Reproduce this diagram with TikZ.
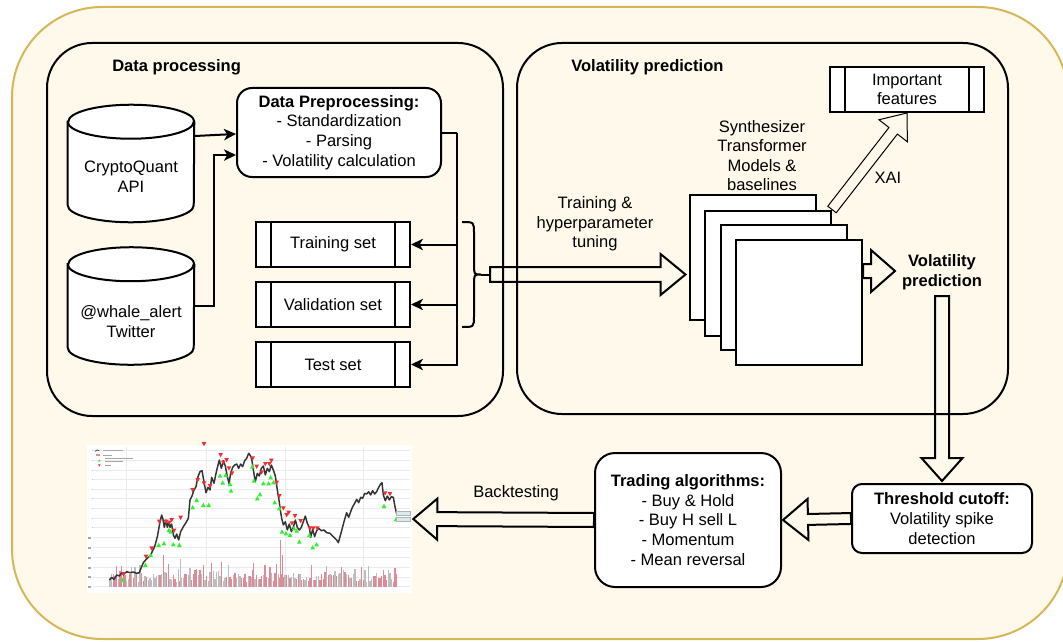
\documentclass[tikz,border=0pt]{standalone}
\usepackage{fontspec}
\setmainfont{Liberation Sans}
\usetikzlibrary{calc,arrows.meta}
\definecolor{bgfill}{HTML}{FEF9EB}
\definecolor{bgdraw}{HTML}{D6B656}
\definecolor{volred}{HTML}{E08A98}
\definecolor{volgray}{HTML}{BDBDBD}
\definecolor{mkgreen}{HTML}{33EE33}
\definecolor{mkred}{HTML}{F03030}
\definecolor{pricelbl}{HTML}{D8ECEC}

% hollow (flex) arrow: style, from, to, shaft half width, head half width, head length
\newcommand\flexarr[6]{%
  \coordinate (fxH) at ($(#3)!#6!(#2)$);
  \draw[#1] ($(#2)!#4!90:(#3)$) -- ($(fxH)!#4!90:(#3)$) -- ($(fxH)!#5!90:(#3)$) -- (#3)
     -- ($(fxH)!#5!-90:(#3)$) -- ($(fxH)!#4!-90:(#3)$) -- ($(#2)!#4!-90:(#3)$) -- cycle;}
\newcommand\cylshape[1]{%
  \draw[line width=1.5pt, fill=white] ([yshift=-12.75pt]#1.north west) -- ([yshift=12.75pt]#1.south west)
    arc[start angle=180,end angle=360,x radius=47.25pt,y radius=12.75pt]
    -- ([yshift=-12.75pt]#1.north east)
    arc[start angle=0,end angle=180,x radius=47.25pt,y radius=12.75pt] -- cycle;
  \draw[line width=1.5pt] ([yshift=-12.75pt]#1.north west)
    arc[start angle=180,end angle=360,x radius=47.25pt,y radius=12.75pt];}
\newcommand\procbars[1]{%
  \draw[line width=1.5pt] ([xshift=12pt]#1.north west) -- ([xshift=12pt]#1.south west)
    ([xshift=-12pt]#1.north east) -- ([xshift=-12pt]#1.south east);}

\begin{document}
\begin{tikzpicture}[x=0.75pt,y=-0.75pt,
  every node/.style={font=\fontsize{12.4}{14.7}\selectfont, inner sep=0pt, align=center},
  container/.style={draw, line width=1.5pt, rounded corners=33.75pt},
  cylnode/.style={minimum width=94.5pt, minimum height=87.75pt},
  proc/.style={draw, line width=1.5pt, fill=white, minimum width=115.5pt, minimum height=33.75pt},
  rbox/.style={draw, line width=1.5pt, fill=white},
  model/.style={draw, line width=1.5pt, fill=white, minimum width=94.5pt, minimum height=93.75pt},
  conn/.style={line width=1.5pt, -{Stealth[length=9pt,width=8.5pt,inset=2.5pt]}},
  plain/.style={line width=1.5pt},
  flexst/.style={line width=1.5pt, line join=miter},
  flexthin/.style={line width=0.75pt, line join=miter},
  title/.style={anchor=base west, font=\fontsize{12.4}{14.7}\selectfont\bfseries},
  bold/.style={font=\fontsize{12.4}{14.7}\selectfont\bfseries}
]
\useasboundingbox (0,0) rectangle (1063,642);
% background
\draw[bgdraw, fill=bgfill, line width=1.5pt, rounded corners=67.5pt] (12,7) rectangle (1068,639);

% containers
\node[container, minimum width=342pt, minimum height=279.75pt] (dpbox) at (275,229.5) {};
\node[container, minimum width=368.25pt, minimum height=278.25pt] (vpbox) at (762.5,228.5) {};
\node[title] (dpt) at (112,71) {Data processing};
\node[title] (vpt) at (571,71) {Volatility prediction};

% cylinders
\node[cylnode] (cq) at (131,163.5) {};
\cylshape{cq}
\node (cqt) at (131,177) {CryptoQuant\\API};
\node[cylnode] (wa) at (131,306) {};
\cylshape{wa}
\node (wat) at (131,321.5) {@whale\_alert\\Twitter};

% preprocessing
\node[rbox, rounded corners=11.25pt, minimum width=153pt, minimum height=66.75pt] (pre) at (339,132.5)
  {\textbf{Data Preprocessing:}\\- Standardization\\- Parsing\\- Volatility calculation};

% sets
\node[proc] (ts) at (333,244.5) {Training set};
\procbars{ts}
\node[proc] (vs) at (333,304.5) {Validation set};
\procbars{vs}
\node[proc] (tes) at (333,364.5) {Test set};
\procbars{tes}

% connectors
\draw[conn] ([yshift=20.6pt]cq.east) -- ([yshift=-1.1pt]pre.west);
\draw[conn] (wa.east) -- ++(20,0) |- ([yshift=-16.9pt]pre.west);
\draw[plain] (pre.east) -- ++(15,0) coordinate (split);
\draw[conn] (split) |- (ts.east);
\draw[conn] (split) |- (vs.east);
\draw[conn] (split) |- (tes.east);

% brace
\draw[plain] (462,222) .. controls (474,222) .. (474,233) -- (474,264)
  .. controls (474,274.5) .. (481,274.5) coordinate (brtip)
  .. controls (474,274.5) .. (474,285) -- (474,316) .. controls (474,327) .. (462,327);
\coordinate (artail) at (490,274.5);
\draw[plain] (brtip) -- (artail);

% models stack
\node[model] (m1) at (752.5,257.5) {};
\node[model] (m2) at (768,273) {};
\node[model] (m3) at (783.5,287) {};
\node[model] (m4) at (799,302.5) {};
\node (mlbl) at (762,155.5) {Synthesizer\\Transformer\\Models \&\\baselines};

% training arrow
\coordinate (arhead) at ($(m1.west |- artail)+(-3,0)$);
\flexarr{flexst}{artail}{arhead}{5.6pt}{15.4pt}{18.75pt}
\node (trl) at (595,224) {Training \&\\hyperparameter\\tuning};

% important features + XAI
\node[proc] (impf) at (907,89.5) {Important\\features};
\procbars{impf}
\flexarr{flexthin}{m2.north east}{impf.south}{4pt}{13.5pt}{16.9pt}
\node (xai) at (888,178) {XAI};

% volatility prediction output
\coordinate (vpa) at (m4.east |- 0,271);
\coordinate (vpb) at (895,271);
\flexarr{flexst}{vpa}{vpb}{5.25pt}{15.75pt}{18pt}
\node[bold] (vpl) at (942,272.5) {Volatility\\prediction};

% threshold
\node[rbox, rounded corners=7.5pt, minimum width=135pt, minimum height=51.75pt] (tc) at (942,518.5)
  {\textbf{Threshold cutoff:}\\Volatility spike\\detection};
\coordinate (dna) at (942,296);
\coordinate (dnb) at ([yshift=1.5pt]tc.north);
\flexarr{flexst}{dna}{dnb}{5.25pt}{15.4pt}{17.25pt}

% trading
\node[rbox, rounded corners=15pt, minimum width=139.5pt, minimum height=100.5pt] (tra) at (688,520)
  {\textbf{Trading algorithms:}\\- Buy \& Hold\\- Buy H sell L\\- Momentum\\- Mean reversal};
\flexarr{flexst}{tc.west}{[xshift=0.75pt]tra.east}{4.1pt}{15.4pt}{18.75pt}

% chart
\node[fill=white, minimum width=243.75pt, minimum height=111pt] (chart) at (249.5,519) {};
\flexarr{flexst}{tra.west}{[xshift=0.75pt]chart.east}{5.25pt}{15.4pt}{18pt}
\node (bt) at (516,493) {Backtesting};

\begin{scope}[shift={(80,440)}, scale=1/3]
  % grid
  \foreach \gy in {30,60,90,118,147,176,205,234,263,292,322,352,382,411,440}
    \draw[black!8, line width=0.4pt] (40,\gy) -- (990,\gy);
  \foreach \gx in {140,380,615,850}
    \draw[black!8, line width=0.4pt] (\gx,20) -- (\gx,445);
  % axis labels
  \foreach \gy in {295,325,355,383,412,440}
    \fill[black!35] (25,\gy-3) rectangle (33,\gy+3);
  \foreach \gy in {30,60,90,118,147,176,205,234,263}
    \fill[black!25] (36,\gy-1) rectangle (40,\gy+1);
  % volume bars
  \pgfmathsetseed{12}
  \foreach \i in {0,...,172}{
    \pgfmathsetmacro\bx{88+5*\i}
    \pgfmathsetmacro\bh{14+26*rnd+40*(rnd^6)}
    \pgfmathsetmacro\bc{rnd}
    \ifdim\bc pt<0.55pt \def\bcol{volred}\else\def\bcol{volgray}\fi
    \fill[\bcol] (\bx,440) rectangle ++(4,-\bh);
  }
  \fill[volred] (600,440) rectangle ++(4,-140);
  \fill[volred] (606,440) rectangle ++(3,-95);
  \fill[volred] (248,440) rectangle ++(3,-95);
  \fill[volred] (124,440) rectangle ++(3,-62);
  \fill[volgray] (300,440) rectangle ++(3,-82);
  \fill[volred] (369,440) rectangle ++(3,-66);
  \fill[volred] (694,440) rectangle ++(3,-66);
  \fill[volgray] (790,440) rectangle ++(3,-50);
  \fill[volgray] (180,440) rectangle ++(3,-55);
  \fill[volred] (515,440) rectangle ++(3,-50);
  % price line
  \draw[black!80, line width=1.1pt, line join=round] plot coordinates {
    (88,420) (95,412) (102,418) (110,405) (118,408) (125,398) (132,402) (140,395) (150,398)
    (160,396) (170,400) (178,398) (183,385) (190,368) (197,360) (205,352) (212,345) (218,332)
    (224,320) (228,305) (232,290) (236,268) (240,245) (245,225) (249,238) (253,262) (258,240)
    (262,262) (266,245) (270,262) (275,252) (280,285) (285,295) (290,282) (296,300) (302,275)
    (310,260) (318,248) (325,235) (330,180) (336,168) (342,150) (348,140) (354,110) (360,95)
    (366,92) (372,125) (378,158) (384,142) (390,150) (395,112) (402,130) (408,100) (414,75)
    (418,60) (424,85) (430,62) (436,78) (442,110) (447,130) (452,100) (458,82) (464,75)
    (470,72) (476,85) (482,72) (488,80) (494,62) (500,55) (506,40) (512,48) (516,62) (520,90)
    (526,125) (532,100) (538,108) (544,85) (550,78) (556,105) (562,85) (568,95) (574,75)
    (580,90) (586,108) (592,150) (597,180) (601,210) (605,235) (610,255) (616,245) (622,270)
    (628,252) (634,275) (640,262) (646,240) (652,262) (658,270) (664,262) (670,245) (676,228)
    (682,250) (688,262) (692,292) (698,268) (704,290) (710,272) (716,265) (724,272) (732,270)
    (740,278) (750,280) (760,290) (770,300) (775,308) (780,290) (786,268) (792,245) (800,218)
    (806,232) (812,215) (818,200) (824,190) (830,178) (836,188) (842,172) (848,175) (854,160)
    (860,162) (866,155) (872,165) (878,152) (884,162) (890,155) (896,142) (902,132) (906,128)
    (910,165) (916,182) (922,168) (928,180) (934,170) (940,172) (945,200) (950,222)};
  % buy markers
  \foreach \mx/\my in {128/420,196/375,212/345,236/315,252/310,267/270,272/275,280/313,298/315,
      338/202,350/180,370/195,386/195,420/107,428/128,437/105,450/132,453/152,517/80,522/122,
      532/175,540/163,550/130,566/130,572/112,580/127,584/187,598/205,606/275,618/280,630/285,
      642/265,650/272,658/305,688/285,698/322,710/313,912/198,948/238}
    \fill[mkgreen] (\mx,\my-7) -- (\mx+7,\my+6) -- (\mx-7,\my+6) -- cycle;
  % sell markers
  \foreach \mx/\my in {130/402,198/350,215/325,238/245,258/245,268/248,275/240,282/272,302/233,
      338/150,353/120,372/130,390/138,422/45,430/68,440/60,447/85,456/100,518/55,530/80,545/97,
      556/72,568/72,574/62,590/128,598/168,610/205,620/225,626/218,636/250,645/228,662/243,
      690/265,700/265,712/265,915/160,930/162,372/12}
    \fill[mkred] (\mx,\my+7) -- (\mx+7,\my-6) -- (\mx-7,\my-6) -- cycle;
  % legend
  \draw[black!70, line width=0.6pt] (45,34) -- (52,30) -- (58,32);
  \fill[volred] (48,42) rectangle (60,48);
  \fill[mkgreen] (58,58) -- (62,65) -- (54,65) -- cycle;
  \fill[mkred] (58,80) -- (62,73) -- (54,73) -- cycle;
  \draw[black!35, line width=0.5pt] (68,30) -- (130,30) (68,45) -- (95,45)
    (75,55) -- (160,55) (75,63) -- (128,63) (75,77) -- (92,77);
  % price labels
  \draw[black!30, fill=pricelbl, line width=0.3pt] (950,215) rectangle (990,226);
  \draw[black!30, fill=pricelbl, line width=0.3pt] (950,232) rectangle (990,243);
\end{scope}
\end{tikzpicture}
\end{document}
